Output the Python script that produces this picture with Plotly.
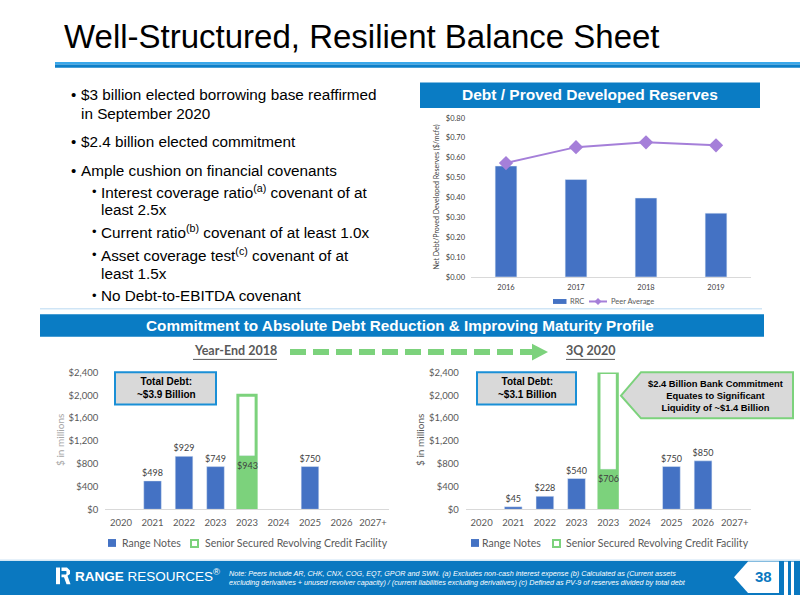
import plotly.graph_objects as go

# ---------------- data ----------------
ratio_years = ["2016", "2017", "2018", "2019"]
rrc_ratio = [0.558, 0.490, 0.397, 0.321]
peer_ratio = [0.573, 0.653, 0.677, 0.662]

maturity_labels = ["2020", "2021", "2022", "2023", "2023", "2024", "2025", "2026", "2027+"]
notes_2018 = [None, 498, 929, 749, None, None, 750, None, None]
revolver_drawn_2018 = [None, None, None, None, 943, None, None, None, None]
revolver_commit_2018 = [None, None, None, None, 2000, None, None, None, None]
notes_3q20 = [None, 45, 228, 540, None, None, 750, 850, None]
revolver_drawn_3q20 = [None, None, None, None, 706, None, None, None, None]
revolver_commit_3q20 = [None, None, None, None, 2400, None, None, None, None]

series_top = ["RRC", "Peer Average"]
series_bottom = ["Range Notes", "Senior Secured Revolving Credit Facility"]

bullets = [
    (0, "$3 billion elected borrowing base reaffirmed", True),
    (0, "in September 2020", False),
    (0, "$2.4 billion elected commitment", True),
    (0, "Ample cushion on financial covenants", True),
    (1, "Interest coverage ratio<sup>(a)</sup> covenant of at", True),
    (1, "least 2.5x", False),
    (1, "Current ratio<sup>(b)</sup> covenant of at least 1.0x", True),
    (1, "Asset coverage test<sup>(c)</sup> covenant of at", True),
    (1, "least 1.5x", False),
    (1, "No Debt-to-EBITDA covenant", True),
]
bullet_y = [90, 109, 138, 168, 189, 207, 230, 253, 272, 295]

# ---------------- helpers ----------------
W, H = 800, 600
def px(x): return x / W
def py(y): return 1 - y / H

BLUE = "#4472C4"
GREEN = "#7cd27c"
PURPLE = "#a57fd9"
HDR = "#0a7cc4"
TXT = "#595959"
FONT = "Lato"
ARIAL = "Liberation Sans"

def fmt(v):
    return "" if v is None else f"${v:,}"

idx = list(range(len(maturity_labels)))

fig = go.Figure()

# top chart
fig.add_trace(go.Bar(x=ratio_years, y=rrc_ratio, name=series_top[0], marker_color=BLUE,
                     width=0.31, xaxis="x", yaxis="y"))
fig.add_trace(go.Scatter(x=ratio_years, y=peer_ratio, name=series_top[1], mode="lines+markers",
                         line=dict(color=PURPLE, width=2),
                         marker=dict(symbol="diamond", size=11, color=PURPLE),
                         xaxis="x", yaxis="y"))

ann = []

def maturity(notes, drawn, commit, xa, ya):
    xs = [i for i, v in zip(idx, notes) if v is not None]
    ys = [v for v in notes if v is not None]
    fig.add_trace(go.Bar(x=xs, y=ys, name=series_bottom[0], marker_color=BLUE, width=0.56,
                         text=[fmt(v) for v in ys], textposition="outside",
                         textfont=dict(family=FONT, size=9, color="#404040"),
                         constraintext="none", cliponaxis=False, textangle=0,
                         xaxis=xa, yaxis=ya))
    fig.add_trace(go.Bar(x=idx, y=drawn, name="drawn", marker_color=GREEN, width=0.58,
                         xaxis=xa, yaxis=ya))
    fig.add_trace(go.Bar(x=idx, y=commit, name=series_bottom[1],
                         marker=dict(color="rgba(255,255,255,0)", line=dict(color=GREEN, width=3)),
                         width=0.58, xaxis=xa, yaxis=ya))
    for i, v in zip(idx, drawn):
        if v is not None:
            ann.append(dict(x=i, y=v, xref=xa, yref=ya, text=fmt(v), showarrow=False,
                            yanchor="top", yshift=-2, font=dict(family=FONT, size=9, color="#404040")))

maturity(notes_2018, revolver_drawn_2018, revolver_commit_2018, "x2", "y2")
maturity(notes_3q20, revolver_drawn_3q20, revolver_commit_3q20, "x3", "y3")

shapes = []
def rect(x0, y0, x1, y1, fill, line=None):
    shapes.append(dict(type="rect", xref="paper", yref="paper", x0=px(x0), x1=px(x1), y0=py(y1), y1=py(y0),
                       fillcolor=fill, line=line if line else dict(width=0)))

def poly(pts, fill, line=None):
    path = "M " + " L ".join(f"{px(a)},{py(b)}" for a, b in pts) + " Z"
    shapes.append(dict(type="path", xref="paper", yref="paper", path=path, fillcolor=fill,
                       line=line if line else dict(width=0)))

def hline(x0, x1, y, color, width, dash="solid"):
    shapes.append(dict(type="line", xref="paper", yref="paper", x0=px(x0), x1=px(x1), y0=py(y), y1=py(y),
                       line=dict(color=color, width=width, dash=dash)))

def text(x, y, s, size, color="black", family=ARIAL, xanchor="left", **kw):
    ann.append(dict(x=px(x), y=py(y), xref="paper", yref="paper", text=s, showarrow=False,
                    xanchor=xanchor, yanchor="middle", font=dict(family=family, size=size, color=color), **kw))

# title underline
rect(55, 57, 800, 59.5, "#3aa8ea")
rect(55, 59.5, 800, 63, "#0d7fc8")
# top-right header
rect(420, 78, 760, 104, HDR)
# light separator
hline(40, 762, 308.5, "#cfe5f6", 1.5)
# banner
rect(40, 314, 764, 337, HDR)
# dashed arrow
hline(290, 532, 352.5, GREEN, 6, "16px,7px")
poly([(532, 344), (548, 352.5), (532, 361)], GREEN)
# underlines
hline(193, 277, 360, TXT, 1)
hline(566, 615, 360, TXT, 1)
# total debt boxes
for x0, x1 in [(115, 216), (477, 576)]:
    rect(x0, 373, x1, 406, "#d9d9d9", dict(color="#1a8fd6", width=2))
# callout
poly([(621, 397), (641, 373), (793, 373), (793, 420), (641, 420)], "#d9d9d9", dict(color=GREEN, width=2))
# footer
rect(0, 565, 800, 600, "#0a78c0")
hline(0, 800, 564, "#e6f1fa", 1.5)
poly([(734, 582), (748, 566), (779, 566), (779, 598), (748, 598)], "white")
rect(784, 566, 788, 600, "white")
rect(791, 566, 794, 600, "white")
# logo mark
rect(56, 572, 60, 589, "white")
poly([(61.5, 572), (67, 572), (70, 575), (70, 578.5), (67.5, 580.5), (70.5, 589), (66.5, 589),
      (64, 582), (61.5, 582), (61.5, 579), (66, 579), (66.5, 578), (66.5, 576), (66, 575.5), (61.5, 575.5)], "white")

# legends (drawn as keys)
rect(553, 298.5, 566.5, 303.5, BLUE)
text(568, 301, series_top[0], 7.5, TXT, FONT)
hline(589, 607, 301, PURPLE, 2)
poly([(598, 297.5), (601.5, 301), (598, 304.5), (594.5, 301)], PURPLE)
text(609, 301, series_top[1], 7.5, TXT, FONT)

for (bx, tx, gx, gtx) in [(108, 120, 190, 202.5), (471, 480, 552, 563.5)]:
    rect(bx, 543, bx + 8, 551, BLUE)
    text(tx, 547, series_bottom[0], 10.5, TXT, FONT)
    rect(gx + 1, 544, gx + 8, 551, "white", dict(color=GREEN, width=2))
    text(gtx, 547, series_bottom[1], 10.5, TXT, FONT)

text(62, 31, "Well-Structured, Resilient Balance Sheet", 33)
text(590, 90, "<b>Debt / Proved Developed Reserves</b>", 15.5, "white", xanchor="center")
text(400, 325, "<b>Commitment to Absolute Debt Reduction &amp; Improving Maturity Profile</b>", 15.3, "white",
     xanchor="center")
text(235, 351, "<b>Year-End 2018</b>", 12.5, TXT, FONT, xanchor="center")
text(590, 351, "<b>3Q 2020</b>", 12.5, TXT, FONT, xanchor="center")

for (lvl, s, has_bullet), y in zip(bullets, bullet_y):
    bx, tx = (69, 79) if lvl == 0 else (90, 99)
    if has_bullet:
        text(bx, y, "•", 15 if lvl == 0 else 13)
    text(tx, y, s, 15.3)

text(166, 389, "<b>Total Debt:<br>~$3.9 Billion</b>", 10, "black", xanchor="center")
text(527, 389, "<b>Total Debt:<br>~$3.1 Billion</b>", 10, "black", xanchor="center")
text(715, 396.5, "<b>$2.4 Billion Bank Commitment<br>Equates to Significant<br>Liquidity of ~$1.4 Billion</b>",
     9.4, "black", xanchor="center")

text(436, 195, "Net Debt/Proved Developed Reserves ($/mcfe)", 7, "#404040", FONT, xanchor="center",
     textangle=-90)
text(60, 442, "$ in millions", 10, "#a6a6a6", FONT, xanchor="center", textangle=-90)
text(420, 442, "$ in millions", 10, TXT, FONT, xanchor="center", textangle=-90)

# footer text
text(73, 580, "<b>RANGE</b> RESOURCES<sup>®</sup>", 13.5, "white", ARIAL)
text(227, 582.5, ("<i>Note: Peers include AR, CHK, CNX, COG, EQT, GPOR and SWN. (a) Excludes non-cash interest "
                  "expense (b) Calculated as (Current assets<br>excluding derivatives + unused revolver capacity) / "
                  "(current liabilities excluding derivatives) (c) Defined as PV-9 of reserves divided by total debt</i>"),
     7.2, "white", ARIAL, align="left")
text(763, 581, "<b>38</b>", 15, "#0a78c0", ARIAL, xanchor="center")

axis_common = dict(showgrid=False, zeroline=False, ticks="")
fig.update_layout(
    width=W, height=H, margin=dict(l=0, r=0, t=0, b=0),
    paper_bgcolor="white", plot_bgcolor="rgba(0,0,0,0)",
    barmode="overlay", shapes=shapes, annotations=ann, showlegend=False,
    xaxis=dict(domain=[px(471), px(751)], anchor="y", showline=True, linecolor="#d9d9d9",
               tickfont=dict(family=FONT, size=7.5, color="#404040"), ticklabelstandoff=3, **axis_common),
    yaxis=dict(domain=[py(276), py(114)], anchor="x", range=[0, 0.8], dtick=0.1, tickprefix="$",
               tickformat=".2f", tickfont=dict(family=FONT, size=7.5, color="#404040"),
               ticklabelstandoff=5, **axis_common),
    xaxis2=dict(domain=[px(105.3), px(388.7)], anchor="y2", range=[-0.5, 8.5], tickvals=idx,
                ticktext=maturity_labels, showline=True, linecolor="#d9d9d9",
                tickfont=dict(family=FONT, size=9.5, color=TXT), ticklabelstandoff=4, **axis_common),
    yaxis2=dict(domain=[py(512.7), py(373.3)], anchor="x2", range=[0, 2400], dtick=400, tickprefix="$",
                tickformat=",", tickfont=dict(family=FONT, size=9.5, color=TXT), ticklabelstandoff=6,
                **axis_common),
    xaxis3=dict(domain=[px(465.8), px(750.5)], anchor="y3", range=[-0.5, 8.5], tickvals=idx,
                ticktext=maturity_labels, showline=True, linecolor="#d9d9d9",
                tickfont=dict(family=FONT, size=9.5, color=TXT), ticklabelstandoff=4, **axis_common),
    yaxis3=dict(domain=[py(512.7), py(373.3)], anchor="x3", range=[0, 2400], dtick=400, tickprefix="$",
                tickformat=",", tickfont=dict(family=FONT, size=9.5, color=TXT), ticklabelstandoff=6,
                **axis_common),
)

fig.write_html("out.html", config={"displayModeBar": False},
               post_script="document.body.style.margin='0';")
